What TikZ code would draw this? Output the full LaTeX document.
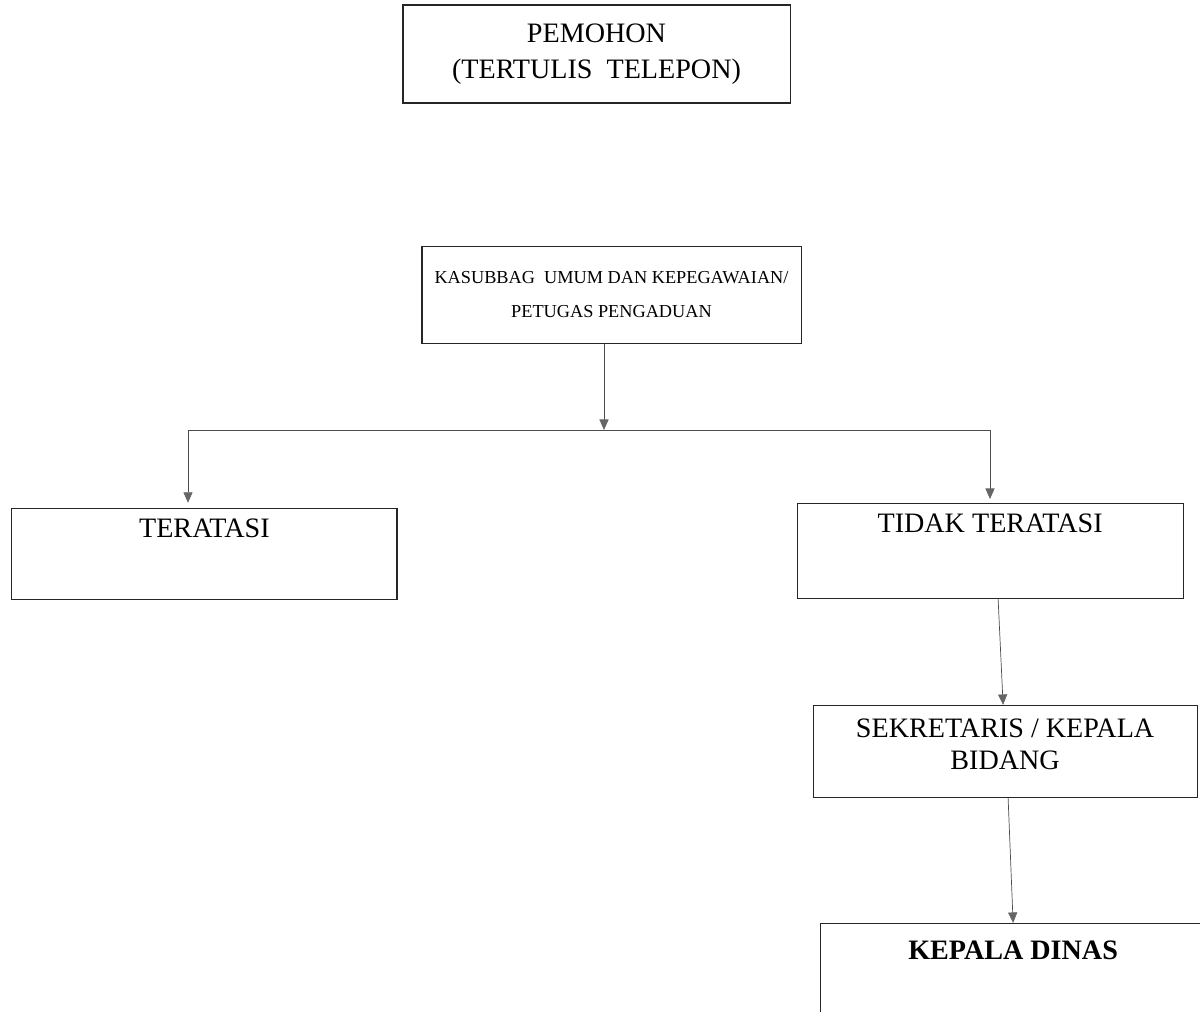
\documentclass[tikz,border=0pt]{standalone}
\usepackage{fontspec}
\setmainfont{Liberation Serif}
\usetikzlibrary{positioning,arrows.meta}

\tikzset{
  box/.style={draw=black!85, line width=0.8pt, inner sep=0pt, align=center},
  bigtext/.style={font=\fontsize{20}{26}\selectfont},
  conn/.style={draw=black!70, line width=0.5pt},
  arr/.style={conn, -{Triangle[width=6.5pt,length=7.5pt,color=black!60]}},
}

\begin{document}
\begin{tikzpicture}[x=0.025cm, y=-0.025cm]
\useasboundingbox (0,0) rectangle (1200,1011);
\clip (0,0) rectangle (1200,1011);

% Define nodes
\node[box, bigtext, minimum width=9.675cm, minimum height=2.45cm] (pemohon) at (596.5,54) {PEMOHON\\(TERTULIS~~TELEPON)};
\node[box, font=\fontsize{13}{24}\selectfont, minimum width=9.475cm, minimum height=2.425cm, below=3.55cm of pemohon, xshift=0.375cm] (kasub) {KASUBBAG~~UMUM DAN KEPEGAWAIAN/\\PETUGAS PENGADUAN};
\node[box, bigtext, minimum width=9.625cm, text height=0.72cm, text depth=1.55cm, below=4.1cm of kasub, xshift=-10.175cm] (teratasi) {TERATASI};
\node[box, bigtext, minimum width=9.65cm, text height=0.72cm, text depth=1.65cm, below=3.98cm of kasub, xshift=9.4625cm] (tidak) {TIDAK TERATASI};
\node[box, font=\fontsize{20}{23}\selectfont, minimum width=9.6cm, text height=1.6cm, text depth=0.7cm, below=2.65cm of tidak, xshift=0.375cm] (sekre) {SEKRETARIS / KEPALA\\BIDANG};
\node[box, font=\bfseries\fontsize{20}{24}\selectfont, minimum width=9.65cm, text height=0.9cm, text depth=2.5cm, below=3.12cm of sekre, xshift=0.2cm] (kadis) {KEPALA DINAS};

\coordinate (split) at (604,430);
\coordinate (lend) at (188,430);
\coordinate (rend) at (990,430);

% Connect the nodes
\draw[conn] (lend) -- (rend);
\draw[arr] (kasub.south -| split) -- (split);
\draw[arr, shorten >=0.125cm] (lend) -- (lend |- teratasi.north);
\draw[arr, shorten >=0.1cm] (rend) -- (rend |- tidak.north);
\draw[arr] ([xshift=0.2cm]tidak.south) -- ([xshift=-0.05cm]sekre.north);
\draw[arr] ([xshift=0.075cm]sekre.south) -- (kadis.north);

\end{tikzpicture}
\end{document}
